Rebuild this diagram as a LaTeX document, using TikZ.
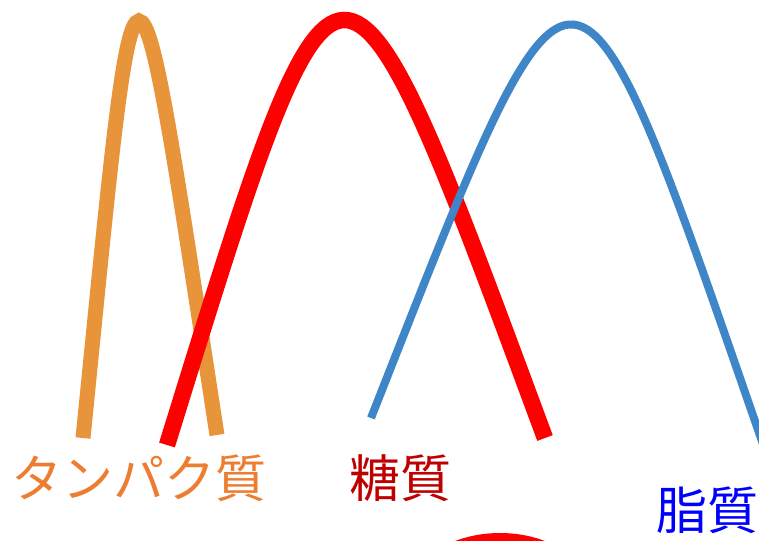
\documentclass[tikz,border=0pt]{standalone}
\usepackage{fontspec}
\newfontfamily\jpfont{Noto Sans CJK JP}
\definecolor{oline}{RGB}{232,148,58}
\definecolor{otext}{RGB}{237,125,49}
\definecolor{rline}{RGB}{255,0,0}
\definecolor{rtext}{RGB}{192,0,0}
\definecolor{bline}{RGB}{62,134,200}
\definecolor{btext}{RGB}{0,0,255}
\tikzset{
  curve/.style={line cap=butt},
  lbl/.style={inner sep=0pt, font=\jpfont\fontsize{51}{51}\selectfont}
}
\begin{document}
\begin{tikzpicture}[x=1pt,y=-1pt]
\useasboundingbox (0,0) rectangle (759,540);
\begin{scope}
\clip (0,0) rectangle (759,540);
% orange curve
\coordinate (o0) at (83,438);
\coordinate (o1) at (217,435);
\draw[curve, oline, line width=15pt] (o0) .. controls (138.6,-117.5) and (132,-117.5) .. (o1);
% red curve
\coordinate (r0) at (167,445);
\coordinate (r1) at (545,438);
\draw[curve, rline, line width=16.5pt] (r0) .. controls (342,-120.5) and (338,-120.5) .. (r1);
% blue curve
\coordinate (b0) at (371,418);
\coordinate (b1) at (765,450);
\draw[curve, bline, line width=8pt] (b0) .. controls (580,-112) and (570,-112) .. (b1);
% red ellipse at bottom
\fill[rline] (500,593) ellipse [x radius=90, y radius=60];
\end{scope}
% labels
\node[lbl, text=otext] (prot) at (138.5,478) {タンパク質};
\node[lbl, text=rtext] (sugar) at (400,478) {糖質};
\node[lbl, text=btext] (fat) at (707,510) {脂質};
\end{tikzpicture}
\end{document}
